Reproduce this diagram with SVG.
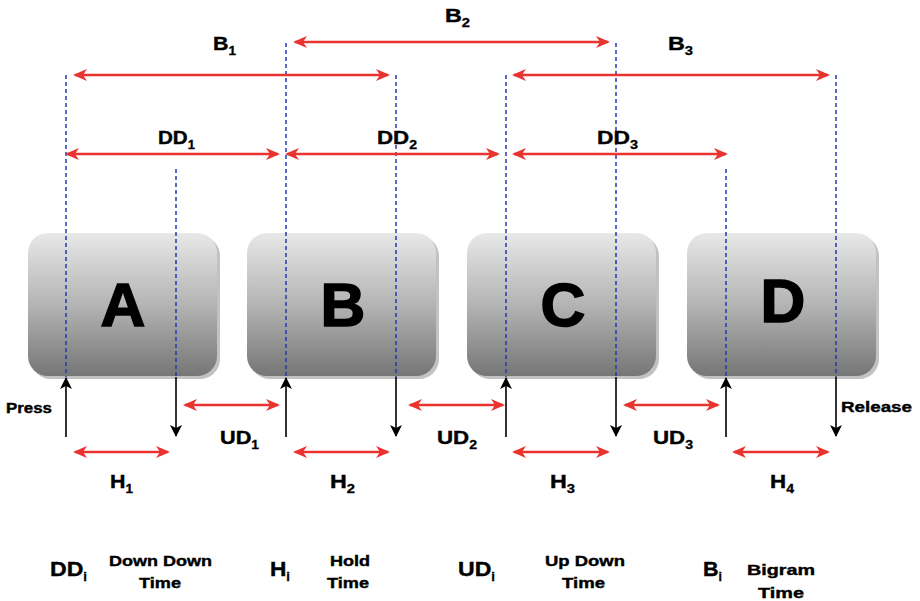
<svg xmlns="http://www.w3.org/2000/svg" width="920" height="601" viewBox="0 0 920 601">
<style>
text{font-family:"Liberation Sans",Arial,sans-serif;font-weight:bold;fill:#000;stroke:#000;stroke-width:0.4}
.lbl{font-size:19px}
.big{font-size:21px}
.sub{font-size:12px;stroke-width:0.3}
.small{font-size:15px}
.key{font-size:62px;text-anchor:middle;stroke-width:1.6}
.red{stroke:#e8332e;stroke-width:2.5;fill:none;marker-start:url(#ra);marker-end:url(#ra)}
.blue{stroke:#2636b8;stroke-width:1.5;stroke-dasharray:4 3;fill:none}
.blk{stroke:#000;stroke-width:1.6;fill:none;marker-end:url(#ba)}
.ctr{text-anchor:middle}
</style>
<defs>
<linearGradient id="kg" x1="0" y1="0" x2="0" y2="1">
<stop offset="0" stop-color="#e8e8e8"/>
<stop offset="0.5" stop-color="#b4b4b4"/>
<stop offset="1" stop-color="#767676"/>
</linearGradient>
<marker id="ra" viewBox="0 0 14 12" refX="12" refY="6" markerWidth="14" markerHeight="12" markerUnits="userSpaceOnUse" orient="auto-start-reverse">
<path d="M0,0 L14,6 L0,12 L4,6 Z" fill="#e8332e"/>
</marker>
<marker id="ba" viewBox="0 0 12 12" refX="11" refY="6" markerWidth="12" markerHeight="12" markerUnits="userSpaceOnUse" orient="auto">
<path d="M0,0 L12,6 L0,12 L3,6 Z" fill="#000"/>
</marker>
</defs>
<rect width="920" height="601" fill="#fff"/>

<g id="key-A">
<rect x="31" y="236" width="189" height="143" rx="20" fill="#9a9a9a" opacity="0.6"/>
<rect x="28" y="233" width="189" height="143" rx="20" fill="url(#kg)"/>
<text class="key" x="123" y="326">A</text>
</g>
<g id="key-B">
<rect x="250" y="236" width="189" height="143" rx="20" fill="#9a9a9a" opacity="0.6"/>
<rect x="247" y="233" width="189" height="143" rx="20" fill="url(#kg)"/>
<text class="key" x="343" y="326">B</text>
</g>
<g id="key-C">
<rect x="470" y="236" width="189" height="143" rx="20" fill="#9a9a9a" opacity="0.6"/>
<rect x="467" y="233" width="189" height="143" rx="20" fill="url(#kg)"/>
<text class="key" x="563" y="326">C</text>
</g>
<g id="key-D">
<rect x="690" y="236" width="189" height="143" rx="20" fill="#9a9a9a" opacity="0.6"/>
<rect x="687" y="233" width="189" height="143" rx="20" fill="url(#kg)"/>
<text class="key" x="783" y="322">D</text>
</g>

<g id="connectors">
<path class="blue" d="M66,75V377 M176,169V377 M286,43V377 M396,75V377 M506,75V377 M616,43V377 M726,169V377 M836,75V377"/>
<path class="blk" d="M66,437V378"/>
<path class="blk" d="M286,437V378"/>
<path class="blk" d="M506,437V378"/>
<path class="blk" d="M726,437V378"/>
<path class="blk" d="M176,377V436"/>
<path class="blk" d="M396,377V436"/>
<path class="blk" d="M616,377V436"/>
<path class="blk" d="M836,377V436"/>
<path class="red" d="M75,75H388"/>
<path class="red" d="M295,42H608"/>
<path class="red" d="M514,75H828"/>
<path class="red" d="M67,154H278"/>
<path class="red" d="M287,154H498"/>
<path class="red" d="M514,154H726"/>
<path class="red" d="M185,405H278"/>
<path class="red" d="M410,405H503"/>
<path class="red" d="M625,405H718"/>
<path class="red" d="M75,452H168"/>
<path class="red" d="M295,452H388"/>
<path class="red" d="M514,452H608"/>
<path class="red" d="M734,452H828"/>
</g>

<g id="labels">
<text class="lbl" x="213" y="50" textLength="23" lengthAdjust="spacingAndGlyphs">B<tspan class="sub" dy="5">1</tspan></text>
<text class="lbl" x="445" y="22" textLength="25" lengthAdjust="spacingAndGlyphs">B<tspan class="sub" dy="5">2</tspan></text>
<text class="lbl" x="668" y="50" textLength="25" lengthAdjust="spacingAndGlyphs">B<tspan class="sub" dy="5">3</tspan></text>
<text class="lbl" x="158" y="144" textLength="37" lengthAdjust="spacingAndGlyphs">DD<tspan class="sub" dy="5">1</tspan></text>
<text class="lbl" x="377" y="144" textLength="40" lengthAdjust="spacingAndGlyphs">DD<tspan class="sub" dy="5">2</tspan></text>
<text class="lbl" x="597" y="144" textLength="41" lengthAdjust="spacingAndGlyphs">DD<tspan class="sub" dy="5">3</tspan></text>
<text class="lbl" x="220" y="444" textLength="39" lengthAdjust="spacingAndGlyphs">UD<tspan class="sub" dy="5">1</tspan></text>
<text class="lbl" x="437" y="444" textLength="40" lengthAdjust="spacingAndGlyphs">UD<tspan class="sub" dy="5">2</tspan></text>
<text class="lbl" x="653" y="444" textLength="40" lengthAdjust="spacingAndGlyphs">UD<tspan class="sub" dy="5">3</tspan></text>
<text class="lbl" x="110" y="488" textLength="23" lengthAdjust="spacingAndGlyphs">H<tspan class="sub" dy="5">1</tspan></text>
<text class="lbl" x="330" y="488" textLength="25" lengthAdjust="spacingAndGlyphs">H<tspan class="sub" dy="5">2</tspan></text>
<text class="lbl" x="550" y="488" textLength="25" lengthAdjust="spacingAndGlyphs">H<tspan class="sub" dy="5">3</tspan></text>
<text class="lbl" x="770" y="488" textLength="24" lengthAdjust="spacingAndGlyphs">H<tspan class="sub" dy="5">4</tspan></text>
<text class="small" x="6" y="413" textLength="46" lengthAdjust="spacingAndGlyphs">Press</text>
<text class="small" x="841" y="412" textLength="71" lengthAdjust="spacingAndGlyphs">Release</text>

<text class="big" x="50" y="576" textLength="37" lengthAdjust="spacingAndGlyphs">DD<tspan class="sub" dy="5">i</tspan></text>
<text class="small" x="109" y="566" textLength="103" lengthAdjust="spacingAndGlyphs">Down Down</text>
<text class="small" x="139" y="588" textLength="42" lengthAdjust="spacingAndGlyphs">Time</text>
<text class="big" x="270" y="576" textLength="20" lengthAdjust="spacingAndGlyphs">H<tspan class="sub" dy="5">i</tspan></text>
<text class="small" x="330" y="566" textLength="40" lengthAdjust="spacingAndGlyphs">Hold</text>
<text class="small" x="327" y="588" textLength="42" lengthAdjust="spacingAndGlyphs">Time</text>
<text class="big" x="458" y="576" textLength="37" lengthAdjust="spacingAndGlyphs">UD<tspan class="sub" dy="5">i</tspan></text>
<text class="small" x="545" y="566" textLength="80" lengthAdjust="spacingAndGlyphs">Up Down</text>
<text class="small" x="562" y="588" textLength="43" lengthAdjust="spacingAndGlyphs">Time</text>
<text class="big" x="703" y="576" textLength="19" lengthAdjust="spacingAndGlyphs">B<tspan class="sub" dy="5">i</tspan></text>
<text class="small" x="747" y="575" textLength="68" lengthAdjust="spacingAndGlyphs">Bigram</text>
<text class="small" x="758" y="598" textLength="46" lengthAdjust="spacingAndGlyphs">Time</text>
</g>
</svg>
